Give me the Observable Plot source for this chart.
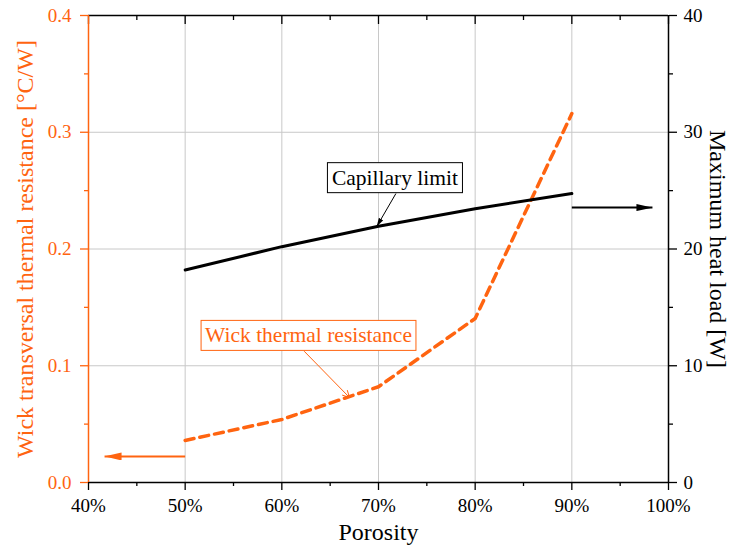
<!DOCTYPE html>
<html>
<head>
<meta charset="utf-8">
<script src="https://cdn.jsdelivr.net/npm/d3@7"></script>
<script src="https://cdn.jsdelivr.net/npm/@observablehq/plot@0.6"></script>
<style>
  html, body { margin: 0; padding: 0; background: #fff; }
  #chart svg { display: block; }
  #chart svg, #chart svg text, #chart svg g { font-family: "Liberation Serif", Tinos, "Times New Roman", Times, "DejaVu Serif", serif !important; }
</style>
</head>
<body>
<div id="chart"></div>
<script>
// ---- data ----
const porosity = [0.5, 0.6, 0.7, 0.8, 0.9];
const capillaryLimit = [18.2, 20.2, 21.95, 23.45, 24.75];      // W (right axis)
const wickResistance = [0.036, 0.054, 0.082, 0.1405, 0.316];   // °C/W (left axis)

const xTicks = [0.4, 0.5, 0.6, 0.7, 0.8, 0.9, 1.0];
const xMinorTicks = [0.45, 0.55, 0.65, 0.75, 0.85, 0.95];
const xGrid = [0.5, 0.6, 0.7, 0.8, 0.9];
const leftTicks = [0, 0.1, 0.2, 0.3, 0.4];
const leftMinorTicks = [0.05, 0.15, 0.25, 0.35];
const leftGrid = [0.1, 0.2, 0.3];
const rightTicks = [0, 10, 20, 30, 40];
const rightMinorTicks = [5, 15, 25, 35];
const heatPerResistance = 100; // right axis 0–40 W ↔ left axis 0–0.4 °C/W

// annotations (data units)
const labelTexts = ["Capillary limit", "Wick thermal resistance"];
const labelX = [0.717, 0.6276];
const labelY = [0.261, 0.1259];
const capArrow = {x1: 0.718, y1: 24.75, x2: 0.698, y2: 21.9};          // heat units
const wickArrow = {x1: 0.6234, y1: 0.1122, x2: 0.670, y2: 0.0728};     // resistance units
const leftPointer = {x1: 0.5, y1: 0.0223, x2: 0.4166, y2: 0.0223};     // resistance units
const rightPointer = {x1: 0.9, y1: 23.55, x2: 0.9834, y2: 23.55};      // heat units

const ORANGE = "#ff6410";
const FONT = "'Liberation Serif', Tinos, 'Times New Roman', Times, 'DejaVu Serif', serif";

const capData = porosity.map((p, i) => ({p, v: capillaryLimit[i] / heatPerResistance}));
const wickData = porosity.map((p, i) => ({p, v: wickResistance[i]}));

function triMarker(len, half) {
  return (color) => {
    const ns = "http://www.w3.org/2000/svg";
    const m = document.createElementNS(ns, "marker");
    m.setAttribute("viewBox", `0 0 ${len} ${2 * half}`);
    m.setAttribute("markerUnits", "userSpaceOnUse");
    m.setAttribute("markerWidth", len);
    m.setAttribute("markerHeight", 2 * half);
    m.setAttribute("refX", len);
    m.setAttribute("refY", half);
    m.setAttribute("orient", "auto");
    const p = document.createElementNS(ns, "path");
    p.setAttribute("d", `M0,0L${len},${half}L0,${2 * half}Z`);
    p.setAttribute("fill", color);
    p.setAttribute("stroke", "none");
    m.appendChild(p);
    return m;
  };
}

function build(custom) {
  const bigBlack = custom ? triMarker(16, 3.5) : "arrow";
  const bigOrange = custom ? triMarker(17, 4) : "arrow";
  const smallBlack = custom ? triMarker(9, 2.5) : "arrow";
  return Plot.plot({
    width: 733,
    height: 552,
    marginLeft: 88,
    marginRight: 65,
    marginTop: 15,
    marginBottom: 70,
    style: {fontFamily: FONT, fontSize: "19px", background: "#fff", overflow: "visible"},
    x: {domain: [0.4, 1.0]},
    y: {domain: [0, 0.4]},
    marks: [
      // grid
      Plot.ruleX(xGrid, {stroke: "#c8c8c8", strokeWidth: 1}),
      Plot.ruleY(leftGrid, {stroke: "#c8c8c8", strokeWidth: 1}),
      // bottom axis
      Plot.axisX({anchor: "bottom", ticks: xTicks, tickSize: 8, tickPadding: 8, tickFormat: d3.format(".0%"),
                  fontSize: 19, stroke: "#000", fill: "#000", strokeWidth: 1.3, label: null}),
      Plot.axisX({anchor: "bottom", ticks: xMinorTicks, tickSize: 4, tickFormat: () => "", stroke: "#000", strokeWidth: 1.3, label: null}),
      // top axis (inward ticks)
      Plot.axisX({anchor: "top", ticks: xTicks, tickSize: 8, dy: 8, tickFormat: () => "", stroke: "#000", strokeWidth: 1.3, label: null}),
      Plot.axisX({anchor: "top", ticks: xMinorTicks, tickSize: 4, dy: 4, tickFormat: () => "", stroke: "#000", strokeWidth: 1.3, label: null}),
      // left axis (orange)
      Plot.axisY({anchor: "left", ticks: leftTicks, tickSize: 8, tickPadding: 9, tickFormat: d3.format(".1f"),
                  fontSize: 19, color: ORANGE, strokeWidth: 1.3, label: null}),
      Plot.axisY({anchor: "left", ticks: leftMinorTicks, tickSize: 4, tickFormat: () => "", color: ORANGE, strokeWidth: 1.3, label: null}),
      // right axis
      Plot.axisY({anchor: "right", ticks: rightTicks.map(t => t / heatPerResistance), tickSize: 8, tickPadding: 7,
                  tickFormat: d => String(Math.round(d * heatPerResistance)), fontSize: 19, color: "#000", strokeWidth: 1.3, label: null}),
      Plot.axisY({anchor: "right", ticks: rightMinorTicks.map(t => t / heatPerResistance), tickSize: 4, tickFormat: () => "", color: "#000", strokeWidth: 1.3, label: null}),
      // frame sides
      Plot.ruleY([0, 0.4], {stroke: "#000", strokeWidth: 1.5}),
      Plot.ruleX([1.0], {stroke: "#000", strokeWidth: 1.5}),
      Plot.ruleX([0.4], {stroke: ORANGE, strokeWidth: 1.5}),
      // series
      Plot.line(wickData, {x: "p", y: "v", stroke: ORANGE, strokeWidth: 3.5, strokeDasharray: "9,6"}),
      Plot.line(capData, {x: "p", y: "v", stroke: "#000", strokeWidth: 3}),
      // axis pointers
      Plot.link([leftPointer], {x1: "x1", y1: "y1", x2: "x2", y2: "y2", stroke: ORANGE, strokeWidth: 2, markerEnd: bigOrange}),
      Plot.link([rightPointer], {x1: "x1", x2: "x2", y1: d => d.y1 / heatPerResistance, y2: d => d.y2 / heatPerResistance,
                 stroke: "#000", strokeWidth: 2, markerEnd: bigBlack}),
      // annotation arrows
      Plot.link([capArrow], {x1: "x1", x2: "x2", y1: d => d.y1 / heatPerResistance, y2: d => d.y2 / heatPerResistance,
                 stroke: "#000", strokeWidth: 1, markerEnd: smallBlack}),
      Plot.arrow([wickArrow], {x1: "x1", y1: "y1", x2: "x2", y2: "y2", stroke: ORANGE, strokeWidth: 1, headLength: 11, headAngle: 55}),
      // annotation labels
      Plot.text([0], {x: () => labelX[0], y: () => labelY[0], text: () => labelTexts[0], fontSize: 21.5, fill: "#000"}),
      Plot.text([1], {x: () => labelX[1], y: () => labelY[1], text: () => labelTexts[1], fontSize: 21.5, fill: ORANGE}),
      // axis titles
      Plot.text(["Wick transversal thermal resistance [°C/W]"], {frameAnchor: "left", textAnchor: "middle", text: d => d, rotate: -90, dx: -63, fontSize: 24, fill: ORANGE}),
      Plot.text(["Maximum heat load [W]"], {frameAnchor: "right", textAnchor: "middle", text: d => d, rotate: 90, dx: 49, fontSize: 24, fill: "#000"}),
      Plot.text(["Porosity"], {frameAnchor: "bottom", textAnchor: "middle", text: d => d, dy: 57, fontSize: 24, fill: "#000"})
    ]
  });
}

let svg;
try { svg = build(true); } catch (e) { console.warn(e); svg = build(false); }
svg.style.fontFamily = FONT;
document.getElementById("chart").appendChild(svg);

// boxes around annotation labels
function boxAround(label, stroke, padX, padY) {
  const ns = "http://www.w3.org/2000/svg";
  Array.from(svg.querySelectorAll("text")).filter(t => t.textContent === label).forEach(t => {
    const b = t.getBBox();
    const r = document.createElementNS(ns, "rect");
    r.setAttribute("x", b.x - padX);
    r.setAttribute("y", b.y - padY);
    r.setAttribute("width", b.width + 2 * padX);
    r.setAttribute("height", b.height + 2 * padY);
    r.setAttribute("fill", "#fff");
    r.setAttribute("stroke", stroke);
    r.setAttribute("stroke-width", 1);
    const tr = t.getAttribute("transform");
    if (tr) r.setAttribute("transform", tr);
    t.parentNode.insertBefore(r, t);
  });
}
boxAround(labelTexts[0], "#000", 4.5, 3);
boxAround(labelTexts[1], ORANGE, 4, 3);
</script>
</body>
</html>
